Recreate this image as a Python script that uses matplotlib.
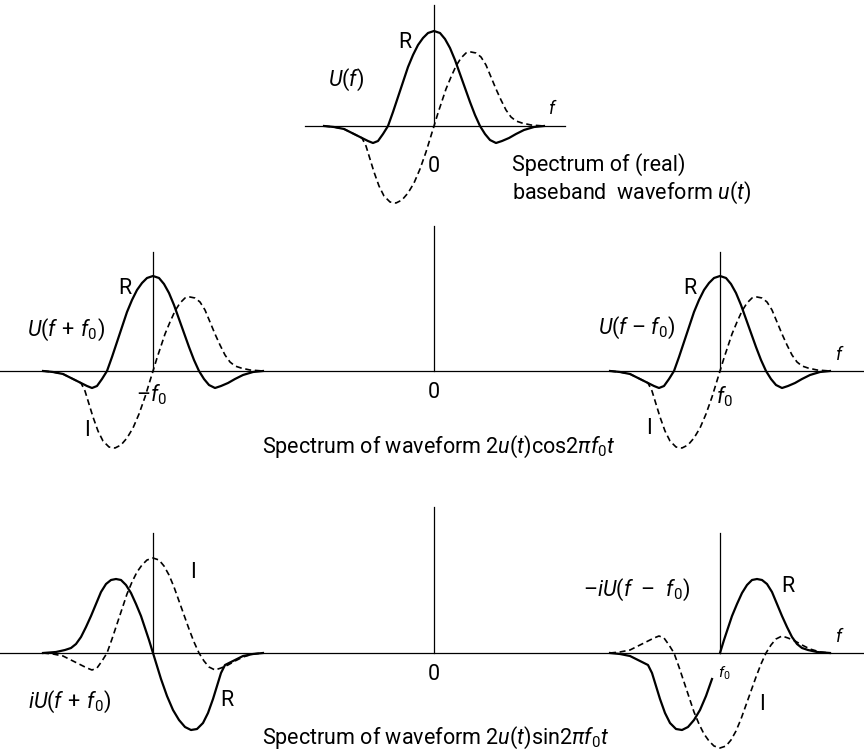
import matplotlib
matplotlib.use("Agg")
import numpy as np
import matplotlib.pyplot as plt

plt.rcParams['font.family'] = ['Roboto', 'DejaVu Sans']
plt.rcParams['mathtext.fontset'] = 'custom'
plt.rcParams['mathtext.rm'] = 'Roboto'
plt.rcParams['mathtext.it'] = 'Roboto:italic'

# baseband spectrum U(f): real part (R) and imaginary part (I)
r_f = [-110, -100, -90, -80, -72, -66, -61, -56, -51, -46, -41, -36, -31, -26, -21, -16, -11, -6, 0,
       6, 11, 16, 21, 26, 31, 36, 41, 46, 51, 56, 62, 68, 75, 82, 90, 100, 110]
r_amp = [0, -1, -3, -8, -12, -15, -17, -15, -8, 0, 14, 29, 44, 59, 71, 81, 88, 93, 95,
         93, 87, 78, 66, 52, 38, 24, 11, 0, -8, -14, -17, -15, -12, -8, -4, -1, 0]

i_f = [-110, -100, -90, -80, -72, -68, -64, -60, -55, -50, -44, -38, -32, -26, -20, -14, -8, -4, 0,
       4, 8, 12, 17, 22, 27, 32, 37, 42, 47, 52, 57, 62, 67, 72, 77, 82, 88, 97, 110]
i_amp = [0, -1, -3, -8, -12, -20, -33, -46, -60, -70, -76, -77, -74, -67, -57, -43, -26, -13, 0,
         13, 25, 37, 49, 60, 68, 73, 74, 73, 69, 61, 49, 37, 26, 16, 9, 5, 3, 1, 0]

r_f = np.array(r_f, float)
r_amp = np.array(r_amp, float)
i_f = np.array(i_f, float)
i_amp = np.array(i_amp, float)

# panel layout (figure pixels, y downwards)
W, H = 864, 756
top_c, top_y = 434, 126
left_c, right_c, mid_c = 153, 720, 434
mid_y, bot_y = 371, 653

fig = plt.figure(figsize=(W / 100, H / 100), dpi=100)
ax = fig.add_axes([0, 0, 1, 1])
ax.set_xlim(0, W)
ax.set_ylim(H, 0)
ax.axis('off')

solid = dict(color='black', lw=1.6, solid_joinstyle='round')
dashed = dict(color='black', lw=1.2, ls=(0, (3.6, 2.2)))
axis_kw = dict(color='black', lw=0.9)


def curve(cx, cy, f, amp, mirror=False, **kw):
    x = cx - f if mirror else cx + f
    ax.plot(x, cy - amp, **kw)


# --- baseband spectrum
ax.plot([305, 565], [top_y, top_y], **axis_kw)
ax.plot([top_c, top_c], [5, top_y], **axis_kw)
curve(top_c, top_y, i_f, i_amp, **dashed)
curve(top_c, top_y, r_f, r_amp, **solid)

# --- 2u(t)cos(2 pi f0 t)
ax.plot([0, W], [mid_y, mid_y], **axis_kw)
for cx, ytop in [(left_c, 252), (mid_c, 226), (right_c, 252)]:
    ax.plot([cx, cx], [ytop, mid_y], **axis_kw)
for cx in (left_c, right_c):
    curve(cx, mid_y, i_f, i_amp, **dashed)
    curve(cx, mid_y, r_f, r_amp, **solid)

# --- 2u(t)sin(2 pi f0 t)
ax.plot([0, W], [bot_y, bot_y], **axis_kw)
for cx, ytop in [(left_c, 533), (mid_c, 507), (right_c, 533)]:
    ax.plot([cx, cx], [ytop, bot_y], **axis_kw)
# iU(f+f0): real = mirrored I, imag = R
curve(left_c, bot_y, r_f, r_amp, **dashed)
curve(left_c, bot_y, i_f, i_amp, mirror=True, **solid)
# -iU(f-f0): real = I, imag = -R
curve(right_c, bot_y, r_f, -r_amp, **dashed)
i_gap = np.where((i_f > -8) & (i_f < 0), np.nan, i_amp)
curve(right_c, bot_y, i_f, i_gap, **solid)

fs = 15.5
lbl = dict(fontsize=fs, color='black')

# baseband labels
ax.text(405, 42, 'R', ha='center', va='center', **lbl)
ax.text(328, 80, r'$U(f)$', ha='left', va='center', **lbl)
ax.text(553, 109, r'$f$', ha='center', va='center', fontsize=13)
ax.text(434, 167, '0', ha='center', va='center', **lbl)
ax.text(512, 165, 'Spectrum of (real)', ha='left', va='center', **lbl)
ax.text(512, 193, r'baseband  waveform $u$($t$)', ha='left', va='center', **lbl)

# cos panel labels
ax.text(125, 288, 'R', ha='center', va='center', **lbl)
ax.text(27, 330, r'$U(f\,+\,f_0)$', ha='left', va='center', **lbl)
ax.text(136, 395, r'–$f_0$', ha='left', va='center', **lbl)
ax.text(87, 430, 'I', ha='center', va='center', **lbl)
ax.text(434, 393, '0', ha='center', va='center', **lbl)
ax.text(690, 288, 'R', ha='center', va='center', **lbl)
ax.text(598, 328, r'$U(f$ – $f_0)$', ha='left', va='center', **lbl)
ax.text(840, 355, r'$f$', ha='center', va='center', fontsize=13)
ax.text(716, 397, r'$f_0$', ha='left', va='center', **lbl)
ax.text(649, 428, 'I', ha='center', va='center', **lbl)
ax.text(262, 447, r'Spectrum of waveform 2$u$($t$)cos2$\pi f_0 t$',
        ha='left', va='center', **lbl)

# sin panel labels
ax.text(193, 573, 'I', ha='center', va='center', **lbl)
ax.text(28, 702, r'$iU(f\,+\,f_0)$', ha='left', va='center', **lbl)
ax.text(227, 700, 'R', ha='center', va='center', **lbl)
ax.text(434, 674, '0', ha='center', va='center', **lbl)
ax.text(583, 590, r'–$iU(f$  –  $f_0)$', ha='left', va='center', **lbl)
ax.text(788, 587, 'R', ha='center', va='center', **lbl)
ax.text(840, 637, r'$f$', ha='center', va='center', fontsize=13)
ax.text(718, 673, r'$f_0$', ha='left', va='center', fontsize=11)
ax.text(762, 705, 'I', ha='center', va='center', **lbl)
ax.text(262, 738, r'Spectrum of waveform 2$u$($t$)sin2$\pi f_0 t$',
        ha='left', va='center', **lbl)

fig.savefig('out.png', dpi=100, facecolor='white')
